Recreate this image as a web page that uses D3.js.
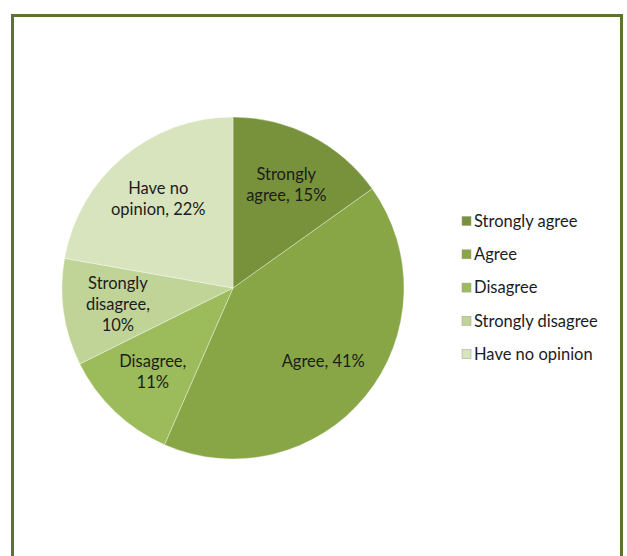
<!DOCTYPE html>
<html>
<head>
<meta charset="utf-8">
<script src="https://cdn.jsdelivr.net/npm/d3@7"></script>
<style>
  html, body { margin: 0; padding: 0; background: #ffffff; }
  svg { display: block; }
  text { font-family: Lato, "Open Sans", sans-serif; fill: #1c1c1c; }
</style>
</head>
<body>
<svg id="chart" width="627" height="556"></svg>
<script>
// Survey responses
const categories = ["Strongly agree", "Agree", "Disagree", "Strongly disagree", "Have no opinion"];
const percents = [15, 41, 11, 10, 22];
const labelLines = [
  ["Strongly", "agree, 15%"],
  ["Agree, 41%"],
  ["Disagree,", "11%"],
  ["Strongly", "disagree,", "10%"],
  ["Have no", "opinion, 22%"]
];
const colors = ["#77923b", "#88a646", "#9cbb5a", "#c0d498", "#d8e4be"];

const svg = d3.select("#chart");

// Outer frame
svg.append("rect")
  .attr("x", 12.5).attr("y", 15.5)
  .attr("width", 609).attr("height", 560)
  .attr("fill", "#ffffff")
  .attr("stroke", "#5c7430")
  .attr("stroke-width", 3);

const cx = 233, cy = 288, R = 171;
const data = categories.map((c, i) => ({ name: c, value: percents[i], lines: labelLines[i] }));

const pie = d3.pie().sort(null).value(d => d.value);
const arc = d3.arc().innerRadius(0).outerRadius(R);
const labelArc = d3.arc().innerRadius(R * 0.68).outerRadius(R * 0.68);
const color = d3.scaleOrdinal().domain(categories).range(colors);

const g = svg.append("g").attr("transform", `translate(${cx},${cy})`);
const arcs = pie(data);

g.selectAll("path.slice")
  .data(arcs)
  .join("path")
  .attr("class", "slice")
  .attr("d", arc)
  .attr("fill", d => color(d.data.name))
  .attr("stroke", "rgba(255,255,255,0.35)")
  .attr("stroke-width", 1);

const lineH = 21;
g.selectAll("text.lbl")
  .data(arcs)
  .join("text")
  .attr("class", "lbl")
  .attr("text-anchor", "middle")
  .attr("font-size", 16.5)
  .each(function(d) {
    const [x, y] = labelArc.centroid(d);
    const n = d.data.lines.length;
    const t = d3.select(this);
    d.data.lines.forEach((ln, k) => {
      t.append("tspan")
        .attr("x", x)
        .attr("y", y + (k - (n - 1) / 2) * lineH)
        .attr("dy", "0.35em")
        .text(ln);
    });
  });

// Legend
const legend = svg.append("g").attr("transform", "translate(462,221)");
const item = legend.selectAll("g")
  .data(categories)
  .join("g")
  .attr("transform", (d, i) => `translate(0,${i * 33.3})`);
item.append("rect")
  .attr("x", 0).attr("y", -4.5)
  .attr("width", 9).attr("height", 9)
  .attr("fill", d => color(d))
  .attr("stroke", "#9aa08a")
  .attr("stroke-width", 0.5);
item.append("text")
  .attr("x", 12)
  .attr("dy", "0.35em")
  .attr("font-size", 16.5)
  .text(d => d);
</script>
</body>
</html>
